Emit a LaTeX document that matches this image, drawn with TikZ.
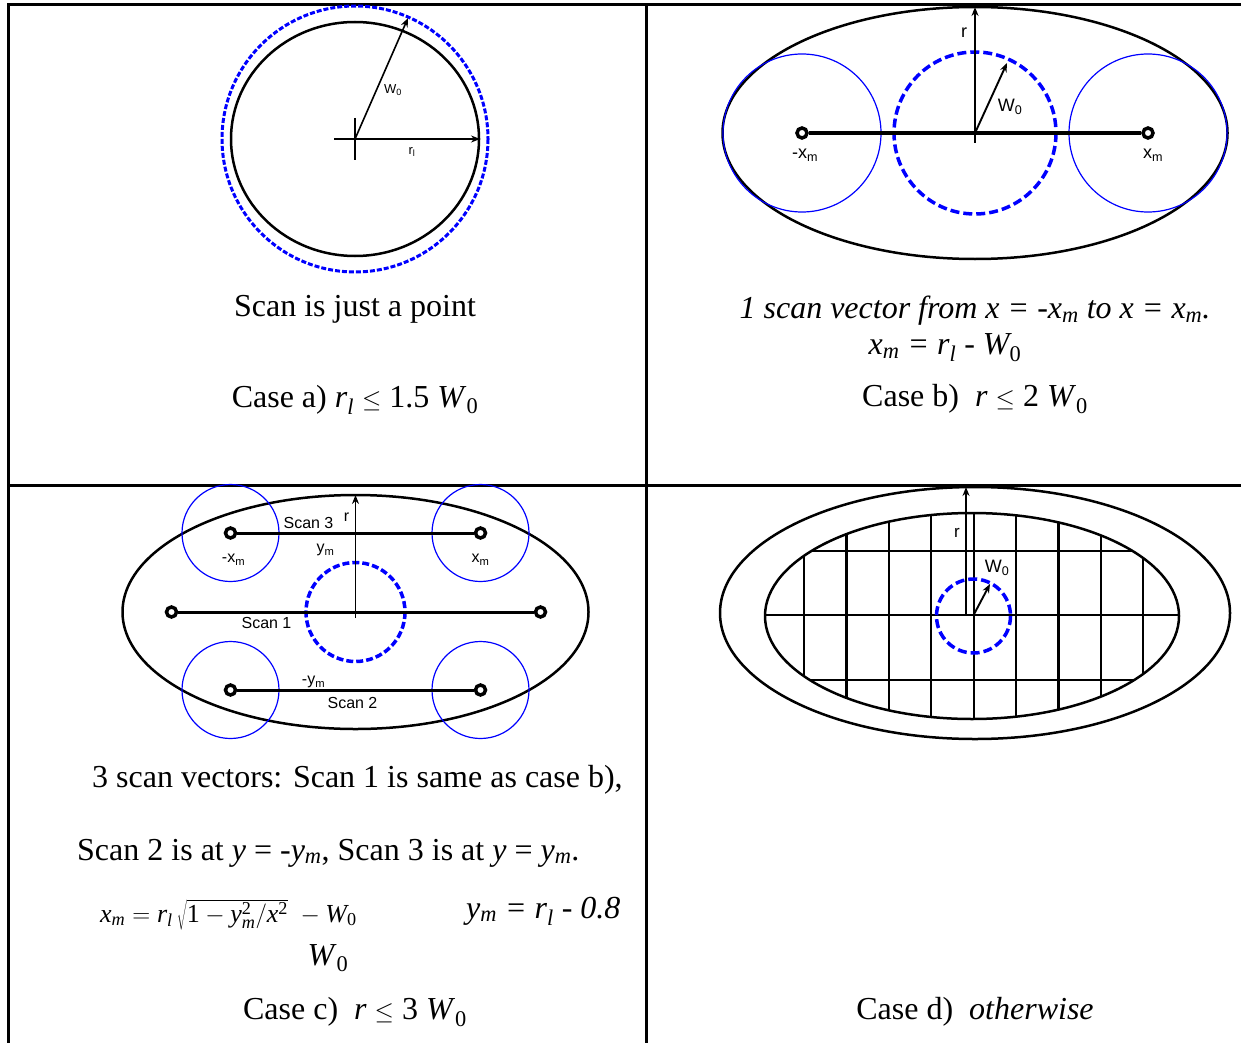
\documentclass[tikz,border=0pt]{standalone}
\usepackage{fontspec}
\setmainfont{Liberation Serif}
\newfontfamily\labelfont{Liberation Sans}
\usetikzlibrary{arrows.meta}
\newcommand{\mi}[1]{\mathit{#1}}
\newcommand{\mr}[1]{\mathrm{#1}}
\newcommand{\sub}[1]{\textsubscript{#1}}

\begin{document}
\begin{tikzpicture}[x=1pt, y=-1pt, >={Stealth[length=9pt,width=7pt]},
    frame/.style={line width=3pt},
    outline/.style={line width=2.5pt},
    beam/.style={blue, line width=1.2pt},
    spot/.style={blue, line width=3.5pt, dash pattern=on 9pt off 4pt},
    axis/.style={->, line width=1.9pt},
    grid line/.style={line width=2.2pt},
    scanline/.style={line width=3.5pt},
    dot/.style={circle, draw, line width=3.5pt, fill=white, inner sep=0pt, minimum size=10pt},
    lbl/.style={font=\labelfont\fontsize{#1}{#1}\selectfont, inner sep=1pt},
    lbl/.default=16,
    caption/.style={font=\fontsize{32}{36}\selectfont, inner sep=0pt}]

    \useasboundingbox (0,0) rectangle (1241,1043);

    % Table lines
    \draw[frame] (8,1043) -- (8,5) -- (1241,5);
    \draw[frame] (8,485) -- (1241,485);
    \draw[frame] (646,5) -- (646,1043);

    % Case a) scan is just a point
    \begin{scope}[shift={(355,139)}]
        \coordinate (ao) at (0,0);
        \coordinate (aw) at (53,-121);
        \coordinate (ar) at (125,0);
        \draw[outline] (ao) ellipse (124 and 117);
        \draw[spot, line width=3pt, dash pattern=on 5pt off 2pt] (ao) circle (133);
        \draw[line width=1.2pt] (-21,0) -- (0,0) (0,-21) -- (0,21);
        \draw[axis, line width=1.6pt] (ao) -- (aw);
        \draw[axis, line width=1.6pt] (ao) -- (ar);
        \node[lbl=13] (awl) at (38,-49) {W\sub{0}};
        \node[lbl=13] (arl) at (57,13) {r\sub{l}};
    \end{scope}
    \node[caption] (capa1) at (355,309) {Scan is just a point};
    \node[caption] (capa2) at (355,400) {Case a) \textit{r}\sub{\itshape l} $\le$ 1.5 \textit{W}\sub{0}};

    % Case b) one scan vector
    \begin{scope}[shift={(975,133)}]
        \coordinate (bo) at (0,0);
        \coordinate (bb) at (0,10);
        \coordinate (bt) at (0,-126);
        \coordinate (bw) at (32,-70);
        \draw[outline] (bo) ellipse (252.5 and 126);
        \draw[beam] (-173,0) circle (79);
        \draw[beam] (173,0) circle (79);
        \draw[spot] (bo) circle (81);
        \node[dot] (bl) at (-173,0) {};
        \node[dot] (br) at (173,0) {};
        \draw[scanline] (bl) -- (br);
        \draw[axis] (bb) -- (bt);
        \draw[axis] (bo) -- (bw);
        \node[lbl=18] (brl) at (-11,-100) {r};
        \node[lbl=18] (bwl) at (35,-26) {W\sub{0}};
        \node[lbl=18] (bll) at (-170,22) {-x\sub{m}};
        \node[lbl=18] (brrl) at (178,22) {x\sub{m}};
    \end{scope}
    \node[caption] (capb1) at (975,311) {\itshape 1 scan vector from x = -x\sub{m} to x = x\sub{m}.};
    \node[caption] (capb2) at (945,348) {\itshape x\sub{m} = r\sub{l} - W\sub{\upshape 0}};
    \node[caption] (capb3) at (975,399) {Case b)\ \ \textit{r} $\le$ 2 \textit{W}\sub{0}};

    % Case c) three scan vectors
    \begin{scope}[shift={(355.5,612)}]
        \coordinate (co) at (0,0);
        \coordinate (cb) at (0,6);
        \coordinate (ct) at (0,-117);
        \draw[outline] (co) ellipse (233 and 117);
        \foreach \x/\y in {-125/-79, 125/-79, -125/78, 125/78}
            \draw[beam] (\x,\y) circle (48.5);
        \draw[spot, dash pattern=on 7pt off 3pt] (co) circle (49.5);
        \node[dot] (c1l) at (-184,0) {};
        \node[dot] (c1r) at (185,0) {};
        \node[dot] (c2l) at (-125,78) {};
        \node[dot] (c2r) at (125,78) {};
        \node[dot] (c3l) at (-125,-79) {};
        \node[dot] (c3r) at (125,-79) {};
        \draw[scanline, line width=3pt] (c1l) -- (c1r);
        \draw[scanline, line width=3pt] (c2l) -- (c2r);
        \draw[scanline, line width=3pt] (c3l) -- (c3r);
        \draw[axis] (cb) -- (ct);
        \node[lbl] (cs3) at (-47,-89) {Scan 3};
        \node[lbl] (crl) at (-9,-95) {r};
        \node[lbl] (cym) at (-30,-62) {y\sub{m}};
        \node[lbl] (cxl) at (-122,-52) {-x\sub{m}};
        \node[lbl] (cxr) at (125,-52) {x\sub{m}};
        \node[lbl] (cs1) at (-89,11) {Scan 1};
        \node[lbl] (cyn) at (-42,70) {-y\sub{m}};
        \node[lbl] (cs2) at (-3,91) {Scan 2};
    \end{scope}
    \node[caption, anchor=west] (capc1) at (92,780) {3 scan vectors: Scan 1 is same as case b),};
    \node[caption, anchor=west] (capc2) at (77,853) {Scan 2 is at \textit{y} = -\textit{y}\sub{\itshape m}, Scan 3 is at \textit{y} = \textit{y}\sub{\itshape m}.};
    \node[caption, anchor=west, font=\fontsize{26}{30}\selectfont] (capc3) at (100,915)
        {$\mi{x}_{\mi{m}} = \mi{r}_{\mi{l}}\,\sqrt{\mr{1}-\mi{y}_{\mi{m}}^{\mr{2}}/\mi{x}^{\mr{2}}}\;-\mi{W}_{\mr{0}}$};
    \node[caption, anchor=west] (capc4) at (466,911) {\itshape y\sub{m} = r\sub{l} - 0.8};
    \node[caption] (capc5) at (328,958) {\textit{W}\sub{0}};
    \node[caption] (capc6) at (355,1012) {Case c)\ \ \textit{r} $\le$ 3 \textit{W}\sub{0}};

    % Case d) otherwise: raster of scan vectors
    \begin{scope}[shift={(975,613)}]
        \coordinate (do) at (-1.4,2);
        \coordinate (db) at (-9,2);
        \coordinate (dt) at (-9,-126);
        \coordinate (dw) at (15,-29);
        \draw[outline] (0,0) ellipse (255 and 126);
        \begin{scope}
            \clip (-3,3) ellipse (207 and 103);
            \foreach \k in {-4,...,4}
                \draw[grid line] (-1.4+42.4*\k,-110) -- (-1.4+42.4*\k,110);
            \foreach \y in {-62,2,67}
                \draw[grid line] (-215,\y) -- (215,\y);
        \end{scope}
        \draw[outline] (-3,3) ellipse (207 and 103);
        \draw[spot] (-1.5,3) circle (37);
        \draw[axis] (db) -- (dt);
        \draw[axis] (do) -- (dw);
        \node[lbl=18] (dwl) at (22,-45) {W\sub{0}};
        \node[lbl=17] (drl) at (-18,-80) {r};
    \end{scope}
    \node[caption] (capd) at (975,1012) {Case d)\ \ \textit{otherwise}};
\end{tikzpicture}
\end{document}
